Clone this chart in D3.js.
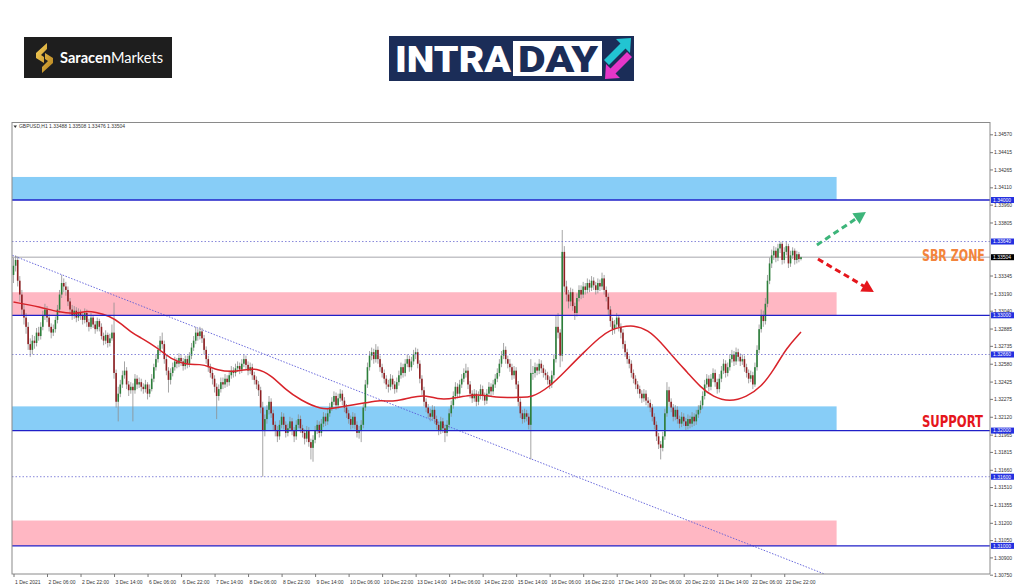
<!DOCTYPE html>
<html>
<head>
<meta charset="utf-8">
<script src="https://cdn.jsdelivr.net/npm/d3@7"></script>
<style>
  html, body { margin: 0; padding: 0; background: #fff; }
  svg { display: block; }
</style>
</head>
<body>
<div id="chart"></div>
<script>
// chart data
const symbolInfo = "GBPUSD,H1  1.33488 1.33508 1.33476 1.33504";
const firstOpen = 1.3335;

const closes = [
  1.3343,1.3348,1.3330,1.3318,1.3305,1.3298,1.3290,1.3275,1.3270,1.3278,
  1.3276,1.3285,1.3282,1.3290,1.3300,1.3305,1.3298,1.3290,1.3285,1.3288,
  1.3296,1.3305,1.3318,1.3328,1.3325,1.3322,1.3312,1.3305,1.3300,1.3304,
  1.3298,1.3302,1.3300,1.3296,1.3302,1.3294,1.3290,1.3298,1.3292,1.3288,
  1.3295,1.3290,1.3282,1.3278,1.3283,1.3276,1.3280,1.3285,1.3250,1.3225,
  1.3232,1.3240,1.3248,1.3252,1.3240,1.3235,1.3238,1.3235,1.3245,1.3240,
  1.3242,1.3238,1.3236,1.3240,1.3232,1.3236,1.3245,1.3255,1.3262,1.3270,
  1.3278,1.3275,1.3262,1.3252,1.3244,1.3250,1.3255,1.3260,1.3258,1.3263,
  1.3260,1.3256,1.3262,1.3258,1.3265,1.3272,1.3278,1.3285,1.3282,1.3286,
  1.3280,1.3270,1.3262,1.3255,1.3250,1.3245,1.3238,1.3230,1.3236,1.3242,
  1.3240,1.3245,1.3242,1.3248,1.3252,1.3250,1.3254,1.3256,1.3253,1.3258,
  1.3262,1.3257,1.3252,1.3255,1.3248,1.3244,1.3240,1.3235,1.3220,1.3200,
  1.3210,1.3218,1.3225,1.3215,1.3205,1.3200,1.3195,1.3205,1.3212,1.3205,
  1.3198,1.3202,1.3208,1.3200,1.3195,1.3205,1.3210,1.3202,1.3198,1.3193,
  1.3200,1.3190,1.3185,1.3192,1.3200,1.3205,1.3198,1.3206,1.3212,1.3208,
  1.3215,1.3220,1.3225,1.3230,1.3222,1.3228,1.3232,1.3226,1.3220,1.3215,
  1.3210,1.3205,1.3212,1.3205,1.3198,1.3200,1.3205,1.3220,1.3240,1.3255,
  1.3265,1.3268,1.3262,1.3270,1.3262,1.3255,1.3250,1.3245,1.3240,1.3238,
  1.3245,1.3240,1.3236,1.3242,1.3248,1.3255,1.3250,1.3258,1.3262,1.3255,
  1.3260,1.3266,1.3268,1.3258,1.3245,1.3235,1.3225,1.3220,1.3215,1.3212,
  1.3218,1.3210,1.3205,1.3200,1.3208,1.3202,1.3198,1.3205,1.3215,1.3222,
  1.3230,1.3238,1.3232,1.3240,1.3245,1.3250,1.3252,1.3240,1.3232,1.3228,
  1.3232,1.3225,1.3230,1.3236,1.3230,1.3226,1.3232,1.3238,1.3234,1.3240,
  1.3245,1.3250,1.3258,1.3265,1.3270,1.3262,1.3258,1.3255,1.3248,1.3252,
  1.3240,1.3225,1.3215,1.3210,1.3215,1.3212,1.3205,1.3250,1.3250,1.3255,
  1.3252,1.3258,1.3254,1.3250,1.3248,1.3244,1.3240,1.3248,1.3262,1.3290,
  1.3285,1.3265,1.3355,1.3325,1.3318,1.3312,1.3320,1.3308,1.3302,1.3315,
  1.3322,1.3318,1.3325,1.3322,1.3328,1.3324,1.3330,1.3326,1.3322,1.3328,
  1.3325,1.3332,1.3322,1.3316,1.3305,1.3295,1.3288,1.3292,1.3298,1.3290,
  1.3285,1.3275,1.3268,1.3262,1.3258,1.3250,1.3245,1.3240,1.3236,1.3232,
  1.3228,1.3232,1.3226,1.3224,1.3220,1.3212,1.3205,1.3195,1.3188,1.3185,
  1.3195,1.3215,1.3235,1.3225,1.3220,1.3212,1.3218,1.3210,1.3206,1.3212,
  1.3208,1.3204,1.3210,1.3206,1.3212,1.3208,1.3214,1.3218,1.3222,1.3230,
  1.3240,1.3245,1.3238,1.3245,1.3250,1.3242,1.3236,1.3245,1.3252,1.3258,
  1.3250,1.3255,1.3262,1.3266,1.3260,1.3268,1.3264,1.3260,1.3262,1.3255,
  1.3250,1.3245,1.3248,1.3240,1.3255,1.3270,1.3288,1.3300,1.3295,1.3310,
  1.3330,1.3345,1.3352,1.3356,1.3350,1.3358,1.3362,1.3348,1.3355,1.3360,
  1.3345,1.3352,1.3356,1.3348,1.3353,1.33488,1.33504
];

const highs = [
  1.3350,1.3352,1.3351,1.3334,1.3322,1.3310,1.3302,1.3294,1.3280,1.3283,
  1.3282,1.3289,1.3290,1.3294,1.3304,1.3310,1.3308,1.3301,1.3293,1.3292,
  1.3299,1.3309,1.3322,1.3335,1.3332,1.3329,1.3325,1.3315,1.3309,1.3308,
  1.3307,1.3306,1.3305,1.3303,1.3306,1.3305,1.3297,1.3302,1.3300,1.3295,
  1.3298,1.3297,1.3293,1.3285,1.3287,1.3285,1.3284,1.3292,1.3311,1.3253,
  1.3238,1.3244,1.3252,1.3260,1.3255,1.3243,1.3242,1.3241,1.3249,1.3248,
  1.3246,1.3245,1.3241,1.3244,1.3242,1.3240,1.3249,1.3258,1.3266,1.3274,
  1.3282,1.3285,1.3278,1.3265,1.3255,1.3254,1.3259,1.3264,1.3263,1.3267,
  1.3266,1.3263,1.3265,1.3265,1.3268,1.3276,1.3282,1.3290,1.3288,1.3290,
  1.3289,1.3283,1.3273,1.3265,1.3258,1.3253,1.3248,1.3241,1.3240,1.3246,
  1.3246,1.3249,1.3248,1.3252,1.3256,1.3255,1.3258,1.3260,1.3259,1.3262,
  1.3266,1.3265,1.3260,1.3259,1.3258,1.3251,1.3247,1.3243,1.3238,1.3225,
  1.3214,1.3222,1.3230,1.3228,1.3218,1.3208,1.3204,1.3209,1.3216,1.3215,
  1.3208,1.3206,1.3212,1.3211,1.3203,1.3209,1.3214,1.3213,1.3205,1.3201,
  1.3204,1.3203,1.3193,1.3196,1.3204,1.3209,1.3208,1.3210,1.3216,1.3215,
  1.3219,1.3224,1.3229,1.3234,1.3233,1.3232,1.3236,1.3235,1.3229,1.3223,
  1.3218,1.3213,1.3216,1.3215,1.3208,1.3204,1.3209,1.3224,1.3244,1.3259,
  1.3269,1.3272,1.3271,1.3275,1.3273,1.3265,1.3258,1.3253,1.3248,1.3244,
  1.3249,1.3248,1.3243,1.3246,1.3252,1.3259,1.3258,1.3262,1.3266,1.3265,
  1.3264,1.3270,1.3272,1.3271,1.3261,1.3248,1.3238,1.3228,1.3223,1.3219,
  1.3222,1.3221,1.3213,1.3208,1.3212,1.3211,1.3205,1.3209,1.3219,1.3226,
  1.3234,1.3242,1.3241,1.3244,1.3249,1.3254,1.3258,1.3255,1.3243,1.3235,
  1.3236,1.3235,1.3234,1.3240,1.3239,1.3233,1.3236,1.3242,1.3241,1.3244,
  1.3249,1.3254,1.3262,1.3269,1.3276,1.3273,1.3265,1.3262,1.3258,1.3256,
  1.3255,1.3243,1.3228,1.3218,1.3219,1.3218,1.3215,1.3262,1.3256,1.3259,
  1.3258,1.3262,1.3261,1.3257,1.3253,1.3251,1.3247,1.3252,1.3266,1.3300,
  1.3302,1.3288,1.3374,1.3360,1.3330,1.3322,1.3324,1.3323,1.3311,1.3319,
  1.3326,1.3326,1.3329,1.3328,1.3332,1.3331,1.3334,1.3333,1.3329,1.3332,
  1.3331,1.3337,1.3335,1.3325,1.3319,1.3308,1.3298,1.3296,1.3302,1.3300,
  1.3293,1.3288,1.3278,1.3271,1.3265,1.3261,1.3253,1.3248,1.3243,1.3239,
  1.3235,1.3236,1.3235,1.3229,1.3227,1.3223,1.3215,1.3208,1.3198,1.3191,
  1.3199,1.3219,1.3242,1.3238,1.3228,1.3223,1.3222,1.3221,1.3213,1.3216,
  1.3215,1.3211,1.3214,1.3213,1.3216,1.3215,1.3218,1.3222,1.3226,1.3234,
  1.3244,1.3249,1.3248,1.3249,1.3254,1.3253,1.3245,1.3249,1.3256,1.3262,
  1.3261,1.3259,1.3266,1.3270,1.3269,1.3272,1.3271,1.3267,1.3266,1.3265,
  1.3258,1.3253,1.3252,1.3251,1.3259,1.3274,1.3292,1.3305,1.3304,1.3315,
  1.3335,1.3350,1.3357,1.3360,1.3359,1.3362,1.3364,1.3364,1.3359,1.3364,
  1.3362,1.3356,1.3359,1.3358,1.3356,1.3355,1.33508
];

const lows = [
  1.3328,1.3338,1.3325,1.3312,1.3300,1.3292,1.3284,1.3270,1.3264,1.3266,
  1.3271,1.3273,1.3278,1.3279,1.3287,1.3296,1.3294,1.3286,1.3280,1.3282,
  1.3285,1.3293,1.3302,1.3315,1.3320,1.3317,1.3308,1.3300,1.3296,1.3297,
  1.3294,1.3295,1.3296,1.3292,1.3293,1.3290,1.3286,1.3288,1.3289,1.3284,
  1.3286,1.3286,1.3279,1.3274,1.3275,1.3272,1.3273,1.3278,1.3245,1.3220,
  1.3208,1.3229,1.3237,1.3245,1.3236,1.3230,1.3232,1.3208,1.3232,1.3236,
  1.3237,1.3234,1.3232,1.3233,1.3227,1.3229,1.3234,1.3242,1.3252,1.3259,
  1.3267,1.3271,1.3258,1.3248,1.3233,1.3240,1.3247,1.3252,1.3254,1.3255,
  1.3256,1.3252,1.3253,1.3254,1.3255,1.3262,1.3269,1.3275,1.3278,1.3279,
  1.3276,1.3266,1.3258,1.3251,1.3246,1.3240,1.3233,1.3210,1.3226,1.3233,
  1.3236,1.3237,1.3238,1.3239,1.3245,1.3246,1.3247,1.3251,1.3249,1.3250,
  1.3255,1.3253,1.3248,1.3249,1.3244,1.3240,1.3236,1.3230,1.3215,1.3160,
  1.3195,1.3206,1.3214,1.3211,1.3200,1.3195,1.3190,1.3192,1.3202,1.3201,
  1.3194,1.3195,1.3199,1.3196,1.3190,1.3192,1.3202,1.3198,1.3194,1.3188,
  1.3190,1.3186,1.3175,1.3173,1.3189,1.3197,1.3194,1.3195,1.3203,1.3204,
  1.3205,1.3212,1.3217,1.3222,1.3218,1.3219,1.3225,1.3222,1.3216,1.3211,
  1.3206,1.3201,1.3202,1.3201,1.3194,1.3193,1.3190,1.3202,1.3217,1.3237,
  1.3252,1.3261,1.3258,1.3259,1.3258,1.3251,1.3246,1.3241,1.3236,1.3233,
  1.3235,1.3236,1.3232,1.3233,1.3239,1.3245,1.3246,1.3247,1.3255,1.3251,
  1.3252,1.3257,1.3262,1.3254,1.3241,1.3231,1.3221,1.3216,1.3211,1.3208,
  1.3209,1.3206,1.3201,1.3196,1.3197,1.3198,1.3190,1.3195,1.3202,1.3212,
  1.3219,1.3227,1.3228,1.3229,1.3237,1.3242,1.3246,1.3236,1.3228,1.3224,
  1.3225,1.3221,1.3222,1.3227,1.3226,1.3222,1.3223,1.3229,1.3230,1.3231,
  1.3237,1.3242,1.3247,1.3255,1.3262,1.3258,1.3254,1.3251,1.3244,1.3245,
  1.3236,1.3221,1.3211,1.3206,1.3207,1.3208,1.3201,1.3175,1.3244,1.3246,
  1.3248,1.3249,1.3250,1.3246,1.3244,1.3240,1.3236,1.3237,1.3245,1.3259,
  1.3280,1.3255,1.3260,1.3320,1.3312,1.3306,1.3308,1.3304,1.3296,1.3299,
  1.3312,1.3314,1.3315,1.3318,1.3319,1.3320,1.3321,1.3322,1.3318,1.3319,
  1.3321,1.3322,1.3318,1.3312,1.3300,1.3290,1.3283,1.3284,1.3289,1.3286,
  1.3280,1.3271,1.3264,1.3258,1.3254,1.3246,1.3241,1.3236,1.3232,1.3228,
  1.3224,1.3225,1.3222,1.3220,1.3216,1.3208,1.3201,1.3191,1.3184,1.3175,
  1.3182,1.3192,1.3212,1.3221,1.3216,1.3208,1.3209,1.3206,1.3202,1.3203,
  1.3204,1.3200,1.3201,1.3202,1.3203,1.3204,1.3205,1.3211,1.3215,1.3219,
  1.3227,1.3237,1.3234,1.3235,1.3242,1.3238,1.3232,1.3233,1.3242,1.3249,
  1.3246,1.3247,1.3252,1.3259,1.3256,1.3257,1.3260,1.3256,1.3257,1.3251,
  1.3246,1.3241,1.3242,1.3236,1.3238,1.3252,1.3267,1.3285,1.3290,1.3292,
  1.3307,1.3327,1.3341,1.3348,1.3346,1.3347,1.3354,1.3344,1.3345,1.3352,
  1.3341,1.3342,1.3349,1.3344,1.3345,1.3346,1.33476
];

// moving average, sampled along the red curve
const maBars = [0,13,21,30,34,39,46,51,56,61,65,70,76,83,89,94,97,104,110,116,
  123,130,137,147,154,161,168,175,182,190,197,204,211,218,225,232,242,247,256,264,
  272,280,285,290,296,303,309,315,322,328,334,342,350,357,363,369,376];
const maValues = [1.33115,1.33072,1.33029,1.33011,1.33037,1.33029,1.32994,1.32933,1.32855,1.32803,
  1.32760,1.32699,1.32612,1.32569,1.32578,1.32552,1.32526,1.32508,1.32526,1.32543,
  1.32482,1.32352,1.32265,1.32179,1.32196,1.32222,1.32239,1.32265,1.32248,1.32291,
  1.32309,1.32265,1.32283,1.32309,1.32309,1.32283,1.32291,1.32283,1.32378,1.32526,
  1.32673,1.32812,1.32873,1.32899,1.32916,1.32873,1.32768,1.32638,1.32500,1.32378,
  1.32291,1.32248,1.32291,1.32378,1.32526,1.32716,1.32855];

const timeLabels = ["1 Dec 2021","2 Dec 06:00","2 Dec 22:00","3 Dec 14:00","6 Dec 06:00","6 Dec 22:00",
  "7 Dec 14:00","8 Dec 06:00","8 Dec 22:00","9 Dec 14:00","10 Dec 06:00","10 Dec 22:00",
  "13 Dec 14:00","14 Dec 06:00","14 Dec 22:00","15 Dec 14:00","16 Dec 06:00","16 Dec 22:00",
  "17 Dec 14:00","20 Dec 06:00","20 Dec 22:00","21 Dec 14:00","22 Dec 06:00","22 Dec 22:00"];

// the 1.33650 and 1.33500 ticks sit fully under the level tags, so they are left out
const priceTicks = [1.34570,1.34415,1.34265,1.34110,1.33960,1.33805,1.33345,1.33190,
  1.33040,1.32885,1.32735,1.32580,1.32425,1.32275,1.32120,1.31965,1.31815,1.31660,
  1.31510,1.31355,1.31200,1.31050,1.30900,1.30750];

// horizontal levels
const levelPrices = [1.34000, 1.33640, 1.33000, 1.32660, 1.32000, 1.31600, 1.31000];
const levelKinds = ["solid", "dot", "solid", "dot", "solid", "dot", "solid"];
const lastPrice = 1.33504;

// shaded zones
const zoneHigh = [1.3420, 1.3320, 1.3221, 1.3122];
const zoneLow = [1.3400, 1.3300, 1.3200, 1.3100];
const zoneKinds = ["blue", "pink", "blue", "pink"];
const zoneEndBar = 393;

// dotted trend line
const trendBars = [-0.5, 388];
const trendPrices = [1.3352, 1.3075];

// arrows: [bar, price] start -> tip
const upArrow = [[383.6, 1.33610], [407.0, 1.33896]];
const downArrow = [[384.1, 1.33488], [410.8, 1.33202]];

// ---------------------------------------------------------------
const W = 1024, H = 587;
const frame = { left: 12, right: 990, top: 122.5, bottom: 574 };
const zoneFill = { blue: "#87cdf7", pink: "#ffb7c3" };

const svg = d3.select("#chart").append("svg")
    .attr("width", W)
    .attr("height", H)
    .style("font-family", "'Liberation Sans', Arial, sans-serif");

svg.append("rect").attr("width", W).attr("height", H).attr("fill", "#fff");

const x = d3.scaleLinear().domain([0, closes.length - 1]).range([13.5, 801]);
const y = d3.scaleLinear().domain([1.3075, 1.3457]).range([574.7, 134.3]);

svg.append("clipPath").attr("id", "plot")
    .append("rect")
    .attr("x", frame.left).attr("y", frame.top)
    .attr("width", frame.right - frame.left)
    .attr("height", frame.bottom - frame.top);

const plot = svg.append("g").attr("clip-path", "url(#plot)");

// zones
plot.selectAll("rect.zone")
    .data(zoneHigh)
    .enter()
    .append("rect")
    .attr("class", "zone")
    .attr("x", frame.left)
    .attr("width", x(zoneEndBar) - frame.left)
    .attr("y", d => y(d))
    .attr("height", (d, i) => y(zoneLow[i]) - y(d))
    .attr("fill", (d, i) => zoneFill[zoneKinds[i]]);

// current price line
plot.append("line")
    .attr("x1", frame.left).attr("x2", frame.right)
    .attr("y1", y(lastPrice)).attr("y2", y(lastPrice))
    .attr("stroke", "#c4c4c8")
    .attr("stroke-width", 1.4);

// trend line
plot.append("line")
    .attr("x1", x(trendBars[0])).attr("y1", y(trendPrices[0]))
    .attr("x2", x(trendBars[1])).attr("y2", y(trendPrices[1]))
    .attr("stroke", "#5a5ad8")
    .attr("stroke-width", 0.9)
    .attr("stroke-dasharray", "1.5,1.5");

// candles
const bars = closes.map((c, i) => {
    const o = i === 0 ? firstOpen : closes[i - 1];
    return {
        i: i, o: o, c: c,
        h: Math.max(highs[i], o, c),
        l: Math.min(lows[i], o, c)
    };
});

const candles = plot.append("g");
candles.selectAll("line")
    .data(bars)
    .enter()
    .append("line")
    .attr("x1", d => x(d.i)).attr("x2", d => x(d.i))
    .attr("y1", d => y(d.h)).attr("y2", d => y(d.l))
    .attr("stroke", "#8e8e8e")
    .attr("stroke-width", 0.8);

candles.selectAll("rect")
    .data(bars)
    .enter()
    .append("rect")
    .attr("x", d => x(d.i) - 0.8)
    .attr("width", 1.6)
    .attr("y", d => y(Math.max(d.o, d.c)))
    .attr("height", d => Math.max(0.8, Math.abs(y(d.o) - y(d.c))))
    .attr("fill", d => d.c >= d.o ? "#2c7f3a" : "#8f1f22");

// moving average
const maLine = d3.line()
    .x(d => x(d[0]))
    .y(d => y(d[1]))
    .curve(d3.curveBasis);

plot.append("path")
    .datum(maBars.map((b, i) => [b, maValues[i]]))
    .attr("d", maLine)
    .attr("fill", "none")
    .attr("stroke", "#d8232a")
    .attr("stroke-width", 1.5);

// levels
plot.selectAll("line.level")
    .data(levelPrices)
    .enter()
    .append("line")
    .attr("class", "level")
    .attr("x1", frame.left).attr("x2", frame.right)
    .attr("y1", d => y(d)).attr("y2", d => y(d))
    .attr("stroke", (d, i) => levelKinds[i] === "solid" ? "#2020c8" : "#6a6ad0")
    .attr("stroke-width", (d, i) => levelKinds[i] === "solid" ? 1.3 : 0.8)
    .attr("stroke-dasharray", (d, i) => levelKinds[i] === "solid" ? null : "1.5,2");

// frame
svg.append("rect")
    .attr("x", frame.left).attr("y", frame.top)
    .attr("width", frame.right - frame.left)
    .attr("height", frame.bottom - frame.top)
    .attr("fill", "none")
    .attr("stroke", "#8a8a8a")
    .attr("stroke-width", 1);

// price axis
const yAxis = svg.append("g")
    .attr("transform", "translate(" + frame.right + ",0)")
    .call(d3.axisRight(y).tickValues(priceTicks).tickSize(3).tickFormat(d3.format(".5f")));
yAxis.select(".domain").remove();
yAxis.selectAll("line").attr("stroke", "#777");
yAxis.selectAll("text")
    .attr("x", 4)
    .attr("font-size", 5)
    .attr("fill", "#333");

// level tags on the axis
const tags = svg.append("g");
levelPrices.forEach(p => {
    tags.append("rect")
        .attr("x", frame.right + 1).attr("y", y(p) - 3)
        .attr("width", 23).attr("height", 6)
        .attr("fill", "#2430e0");
    tags.append("text")
        .attr("x", frame.right + 3).attr("y", y(p) + 1.8)
        .attr("font-size", 5).attr("fill", "#fff")
        .text(d3.format(".5f")(p));
});
tags.append("rect")
    .attr("x", frame.right + 1).attr("y", y(lastPrice) - 3)
    .attr("width", 23).attr("height", 6)
    .attr("fill", "#000");
tags.append("text")
    .attr("x", frame.right + 3).attr("y", y(lastPrice) + 1.8)
    .attr("font-size", 5).attr("fill", "#fff")
    .text(d3.format(".5f")(lastPrice));

// time axis
const xTicks = timeLabels.map((t, i) => i * 16);
const xAxis = svg.append("g")
    .attr("transform", "translate(0," + frame.bottom + ")")
    .call(d3.axisBottom(x).tickValues(xTicks).tickSize(3).tickFormat((d, i) => timeLabels[i]));
xAxis.select(".domain").remove();
xAxis.selectAll("line").attr("stroke", "#777");
xAxis.selectAll("text")
    .attr("text-anchor", "start")
    .attr("x", 1)
    .attr("font-size", 5)
    .attr("fill", "#333");

// symbol header
svg.append("path")
    .attr("d", "M13.5,125.5 L17,125.5 L15.25,128 Z")
    .attr("fill", "#333");
svg.append("text")
    .attr("x", 19).attr("y", 128.3)
    .attr("font-size", 5)
    .attr("fill", "#333")
    .attr("textLength", 106)
    .attr("lengthAdjust", "spacingAndGlyphs")
    .text(symbolInfo);

// arrows
const drawArrow = (pts, color) => {
    const x1 = x(pts[0][0]), y1 = y(pts[0][1]), x2 = x(pts[1][0]), y2 = y(pts[1][1]);
    const len = Math.hypot(x2 - x1, y2 - y1);
    const ux = (x2 - x1) / len, uy = (y2 - y1) / len;
    const headLen = 12, headW = 6.5;
    const bx = x2 - ux * headLen, by = y2 - uy * headLen;
    svg.append("line")
        .attr("x1", x1).attr("y1", y1)
        .attr("x2", bx + ux * 1).attr("y2", by + uy * 1)
        .attr("stroke", color)
        .attr("stroke-width", 3)
        .attr("stroke-dasharray", "6,4");
    svg.append("path")
        .attr("d", "M" + x2 + "," + y2 +
            " L" + (bx - uy * headW) + "," + (by + ux * headW) +
            " L" + (bx + uy * headW) + "," + (by - ux * headW) + " Z")
        .attr("fill", color);
};
drawArrow(upArrow, "#3db57a");
drawArrow(downArrow, "#e5161c");

// notes: heavy condensed labels, squeezed to the width seen in the picture
const fitLabel = (label, left, baseline, width, size, color) => {
    const g = svg.append("g");
    const t = g.append("text")
        .attr("x", 0).attr("y", 0)
        .attr("font-family", "'DejaVu Sans Condensed', 'DejaVu Sans', sans-serif")
        .attr("font-weight", "bold")
        .attr("font-size", size)
        .attr("fill", color)
        .text(label);
    const natural = t.node().getComputedTextLength();
    g.attr("transform", "translate(" + left + "," + baseline + ") scale(" + (width / natural) + ",1)");
};
fitLabel("SBR ZONE", 922, y(1.3352) + 6, 63, 16, "#f3843c");
fitLabel("SUPPORT", 922, y(1.32083) + 5.5, 61, 15, "#e5161c");

// Saracen Markets logo
const defs = svg.append("defs");
const gold = defs.append("linearGradient").attr("id", "gold")
    .attr("x1", "0").attr("y1", "0").attr("x2", "1").attr("y2", "1");
gold.append("stop").attr("offset", "0%").attr("stop-color", "#f7d15a");
gold.append("stop").attr("offset", "100%").attr("stop-color", "#b5801c");

svg.append("rect")
    .attr("x", 24).attr("y", 37).attr("width", 148).attr("height", 41)
    .attr("fill", "#1e1e1e");
svg.append("path")
    .attr("d", "M47,43 L36,53 L36,58 L44,63 L44,57 L41,55 L47,49 Z M42,73 L53,63 L53,58 L45,53 L45,59 L48,61 L42,67 Z")
    .attr("fill", "url(#gold)");
const sm = svg.append("text")
    .attr("x", 60).attr("y", 63)
    .attr("font-family", "Lato, 'Open Sans', sans-serif")
    .attr("font-size", 14.5)
    .attr("fill", "#fff")
    .attr("textLength", 103)
    .attr("lengthAdjust", "spacingAndGlyphs");
sm.append("tspan").attr("font-weight", "bold").text("Saracen");
sm.append("tspan").text("Markets");

// INTRADAY logo
svg.append("rect")
    .attr("x", 389).attr("y", 36).attr("width", 245).attr("height", 45)
    .attr("fill", "#1b2d58");
svg.append("text")
    .attr("x", 395).attr("y", 72)
    .attr("font-family", "Roboto, 'DejaVu Sans', sans-serif")
    .attr("font-weight", "900")
    .attr("font-size", 37)
    .attr("fill", "#fff")
    .attr("textLength", 116)
    .attr("lengthAdjust", "spacingAndGlyphs")
    .text("INTRA");
svg.append("rect")
    .attr("x", 513).attr("y", 41).attr("width", 89).attr("height", 35)
    .attr("fill", "#fff");
svg.append("text")
    .attr("x", 518).attr("y", 72)
    .attr("font-family", "Roboto, 'DejaVu Sans', sans-serif")
    .attr("font-weight", "900")
    .attr("font-size", 37)
    .attr("fill", "#1b2d58")
    .attr("textLength", 80)
    .attr("lengthAdjust", "spacingAndGlyphs")
    .text("DAY");
svg.append("path")
    .attr("d", "M631,38 L616,39 L620.5,43.5 L604,60 L609,65 L625.5,48.5 L630,53 Z")
    .attr("fill", "#22c4d2");
svg.append("path")
    .attr("d", "M605,79 L620,78 L615.5,73.5 L632,57 L627,52 L610.5,68.5 L606,64 Z")
    .attr("fill", "#e636c8");
</script>
</body>
</html>
